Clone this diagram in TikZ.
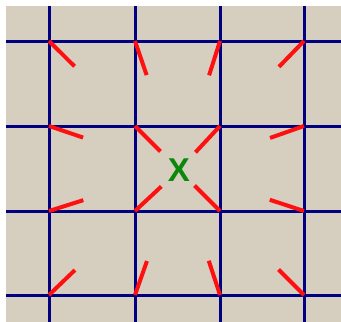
\documentclass[tikz,border=0pt]{standalone}
\usepackage{fontspec}
\setsansfont{Liberation Sans}
\usepackage{xcolor}
\usepackage{tikz}
\usetikzlibrary{calc}
\definecolor{gridblue}{HTML}{000080}
\definecolor{pullred}{HTML}{FF1010}
\definecolor{targetgreen}{HTML}{0B870B}
\definecolor{paperbeige}{HTML}{D6CFC0}

\begin{document}
\begin{tikzpicture}[x=1pt,y=-1pt]
  \useasboundingbox (0,0) rectangle (341,322);
  \fill[paperbeige] (6,6) rectangle (341,322);
  \foreach \gx in {49,135,220,304}
    \draw[line width=3pt,gridblue] (\gx,6) -- (\gx,322);
  \foreach \gy in {41,126,211,295}
    \draw[line width=3pt,gridblue] (6,\gy) -- (341,\gy);
  \node[text=targetgreen,font=\sffamily\bfseries\fontsize{33}{33}\selectfont,inner sep=0pt] (target) at (179,170) {X};
  \foreach \i/\gx in {1/49,2/135,3/220,4/304}
    \foreach \j/\gy in {1/41,2/126,3/211,4/295}
      \coordinate (p\i\j) at (\gx,\gy);
  \foreach \i in {1,...,4}
    \foreach \j in {1,...,4}
      \draw[pullred,line width=4pt] (p\i\j) -- ($(p\i\j)!36pt!(target.center)$);
\end{tikzpicture}
\end{document}
